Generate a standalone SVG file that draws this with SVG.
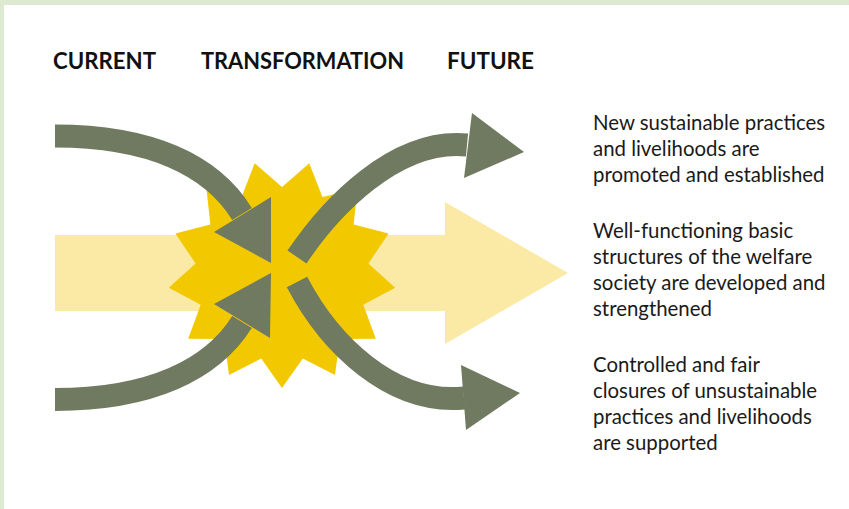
<svg xmlns="http://www.w3.org/2000/svg" width="849" height="509" viewBox="0 0 849 509">
  <style>
    .frame { fill: #dde9d0; }
    .band { fill: #fbeaa6; }
    .burst { fill: #f2c900; }
    .shaft { fill: none; stroke: #6f7a60; stroke-width: 23; stroke-linecap: butt; }
    .head { fill: #6f7a60; }
    .heading { font-family: Lato, "Liberation Sans", sans-serif; font-weight: 700; font-size: 22px; fill: #111111; }
    .label { font-family: Lato, "Liberation Sans", sans-serif; font-size: 20.4px; fill: #1a1a1a; }
  </style>

  <rect width="849" height="509" fill="#ffffff"/>
  <rect class="frame" x="0" y="0" width="849" height="5"/>
  <rect class="frame" x="0" y="0" width="4" height="509"/>

  <g id="headings">
    <text class="heading" x="53" y="69" textLength="103" lengthAdjust="spacingAndGlyphs">CURRENT</text>
    <text class="heading" x="201" y="69" textLength="203" lengthAdjust="spacingAndGlyphs">TRANSFORMATION</text>
    <text class="heading" x="447" y="69" textLength="87" lengthAdjust="spacingAndGlyphs">FUTURE</text>
  </g>

  <!-- broad background arrow running from current to future -->
  <g id="mainstream">
    <polygon class="band" points="55,235 445,235 445,202 568,273 445,344 445,311 55,311"/>
  </g>

  <!-- 13-point burst marking the transformation -->
  <g id="transformation">
    <polygon class="burst" points="282,388 261.2,358.5 229,374.9 224.3,339.1 188.2,338.8 200.7,304.8 168.8,287.7 195.6,263.5 175.4,233.6 210.4,224.6 206.4,188.7 241.6,197 254.7,163.3 282,187 309.3,163.3 322.4,197 357.6,188.7 353.6,224.6 388.6,233.6 368.4,263.5 395.2,287.7 363.3,304.8 375.8,338.8 339.7,339.1 335,374.9 302.8,358.5"/>
  </g>

  <g id="connectors">
    <g id="in-upper">
      <path class="shaft" d="M55,136 C150,136 212,165 242,214"/>
      <polygon class="head" points="271,197 214,232 271,263"/>
    </g>
    <g id="in-lower">
      <path class="shaft" d="M55,399.5 C150,399.5 212,370 242,322"/>
      <polygon class="head" points="271,273 214,304 270,338"/>
    </g>
    <g id="out-upper">
      <path class="shaft" d="M297,257 C330,208 395,138 467,145"/>
      <polygon class="head" points="472,113 524,152 464,178"/>
    </g>
    <g id="out-lower">
      <path class="shaft" d="M297,282 C330,345 392,405 464,398"/>
      <polygon class="head" points="461,365 520,393 466,430"/>
    </g>
  </g>

  <g id="outcome-new">
    <text class="label" x="593" y="130">New sustainable practices</text>
    <text class="label" x="593" y="156">and livelihoods are</text>
    <text class="label" x="593" y="182">promoted and established</text>
  </g>
  <g id="outcome-welfare">
    <text class="label" x="593" y="238">Well-functioning basic</text>
    <text class="label" x="593" y="264">structures of the welfare</text>
    <text class="label" x="593" y="290">society are developed and</text>
    <text class="label" x="593" y="316">strengthened</text>
  </g>
  <g id="outcome-closures">
    <text class="label" x="593" y="372">Controlled and fair</text>
    <text class="label" x="593" y="398">closures of unsustainable</text>
    <text class="label" x="593" y="424">practices and livelihoods</text>
    <text class="label" x="593" y="450">are supported</text>
  </g>
</svg>
